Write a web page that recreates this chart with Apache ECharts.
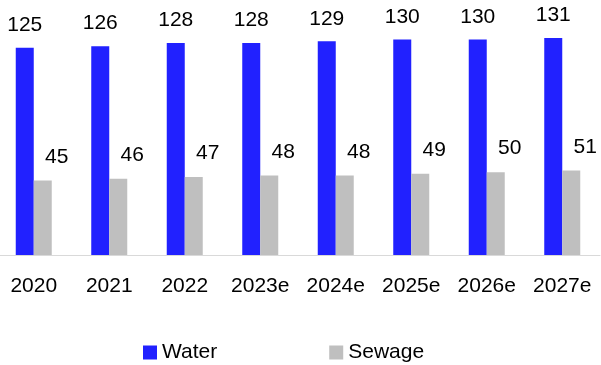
<!DOCTYPE html>
<html>
<head>
<meta charset="utf-8">
<script src="https://cdn.jsdelivr.net/npm/echarts@6/dist/echarts.min.js"></script>
<style>
  html, body { margin: 0; padding: 0; background: #fff; overflow: hidden; }
  #chart { position: relative; left: -4px; width: 605px; height: 365px; }
</style>
</head>
<body>
<div id="chart"></div>
<script>
// Years on the category axis
const years = ['2020', '2021', '2022', '2023e', '2024e', '2025e', '2026e', '2027e'];
// Values per year for each series
const water = [125, 126, 128, 128, 129, 130, 130, 131];
const sewage = [45, 46, 47, 48, 48, 49, 50, 51];

const FONT = '"Liberation Sans", Arial, sans-serif';

const chart = echarts.init(document.getElementById('chart'), null, { renderer: 'canvas' });
chart.setOption({
  animation: false,
  backgroundColor: '#ffffff',
  grid: { left: 0, right: 1, top: 23, bottom: 110, containLabel: false },
  legend: {
    left: 142,
    top: 337,
    padding: 5,
    itemWidth: 14,
    itemHeight: 14,
    itemGap: 112,
    icon: 'rect',
    textStyle: { fontFamily: FONT, fontSize: 21, color: '#000' },
    data: ['Water', 'Sewage']
  },
  xAxis: {
    type: 'category',
    data: years,
    axisLine: { show: true, lineStyle: { color: '#d9d9d9', width: 1 } },
    axisTick: { show: false },
    axisLabel: { interval: 0, fontFamily: FONT, fontSize: 21, color: '#000', margin: 21 }
  },
  yAxis: {
    type: 'value',
    min: 0,
    max: 140,
    show: false,
    splitLine: { show: false }
  },
  series: [
    {
      name: 'Water',
      type: 'bar',
      data: water,
      barWidth: 18,
      barGap: '0%',
      itemStyle: { color: '#2121ff' },
      label: {
        show: true,
        position: 'top',
        distance: 12,
        fontFamily: FONT,
        fontSize: 21,
        color: '#000'
      }
    },
    {
      name: 'Sewage',
      type: 'bar',
      data: sewage,
      barWidth: 18,
      barGap: '0%',
      itemStyle: { color: '#bfbfbf' },
      label: {
        show: true,
        position: 'top',
        distance: 13,
        offset: [14, 0],
        fontFamily: FONT,
        fontSize: 21,
        color: '#000'
      }
    }
  ]
});
</script>
</body>
</html>
